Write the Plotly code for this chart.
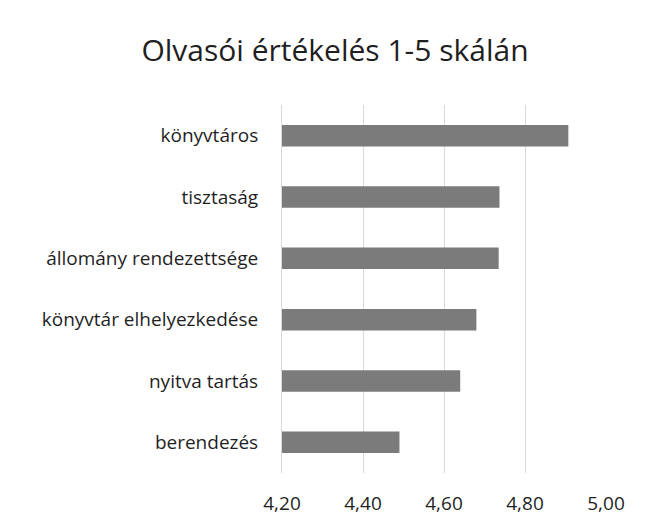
import plotly.graph_objects as go

categories = ["berendezés", "nyitva tartás", "könyvtár elhelyezkedése",
              "állomány rendezettsége", "tisztaság", "könyvtáros"]
values = [4.49, 4.64, 4.68, 4.735, 4.737, 4.907]
tick_vals = [4.2, 4.4, 4.6, 4.8, 5.0]
axis_min = 4.2

FONT = "Open Sans"
TXT = "#1f1f1f"

fig = go.Figure(go.Bar(
    x=[v - axis_min for v in values], y=categories, orientation="h",
    base=axis_min,
    marker=dict(color="#7b7b7b", line=dict(width=0)),
    width=0.35,
    hoverinfo="skip",
))

# the page body has an 8px margin, so the figure is 16px smaller than the window
fig.update_layout(
    width=640, height=508,
    paper_bgcolor="white", plot_bgcolor="white",
    margin=dict(l=274, r=42, t=97, b=43, autoexpand=False),
    separators=", ",
    showlegend=False,
    title=dict(text="Olvasói értékelés 1-5 skálán", x=327/640, xanchor="center",
               y=1 - 42/508, yanchor="middle", yref="container",
               font=dict(family=FONT, size=30, color=TXT)),
    font=dict(family=FONT, color=TXT),
)
fig.update_xaxes(range=[4.2, 5.0], tickvals=tick_vals, tickformat=".2f",
                 showgrid=True, gridcolor="#d9d9d9", gridwidth=1,
                 zeroline=False, showline=False, ticks="",
                 ticklabelstandoff=17,
                 tickfont=dict(family=FONT, size=19, color=TXT))
fig.update_yaxes(showgrid=False, showline=True, linecolor="#d9d9d9", linewidth=1,
                 ticks="", ticklabelstandoff=19,
                 tickfont=dict(family=FONT, size=19, color=TXT))

fig.write_html("out.html")
